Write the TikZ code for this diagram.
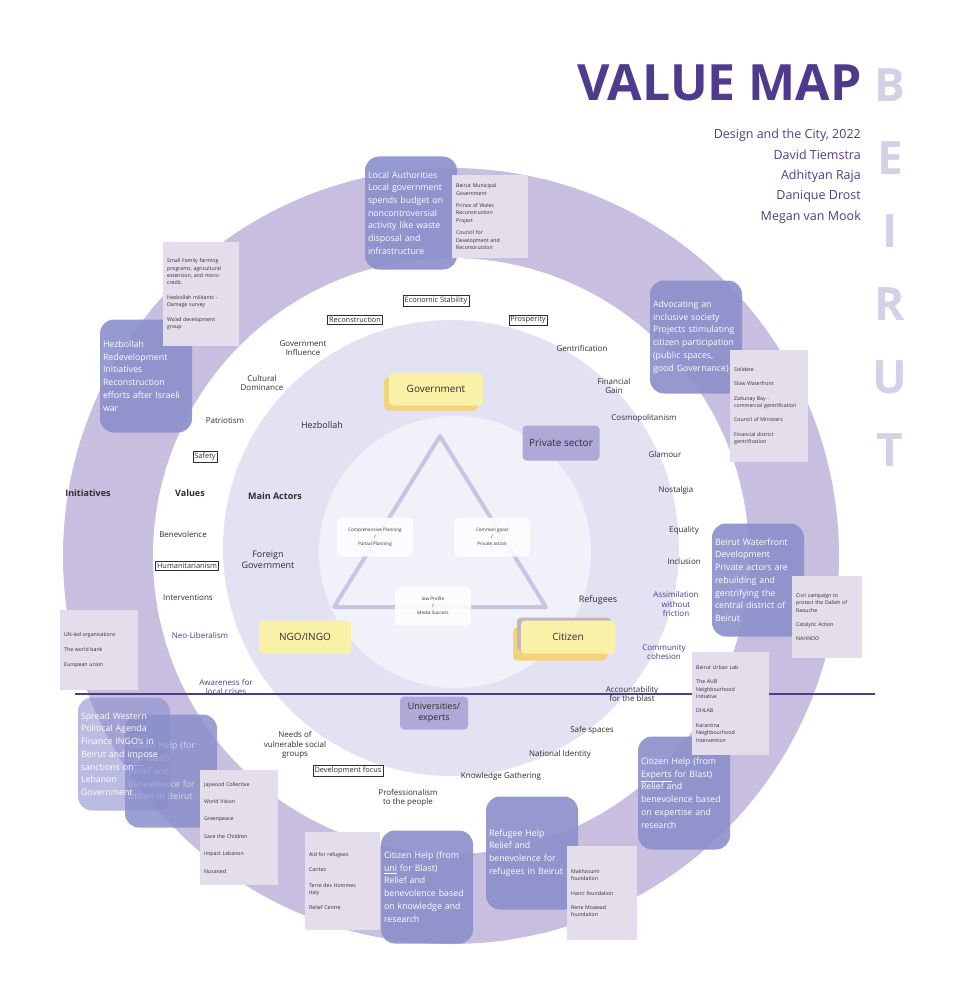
\documentclass[tikz,border=0pt]{standalone}
\usepackage{fontspec}
\setmainfont{Open Sans}
\usetikzlibrary{positioning}
\definecolor{ringlilac}{HTML}{C8BEDF}
\definecolor{midlilac}{HTML}{E3E2F3}
\definecolor{corelilac}{HTML}{F1F1F9}
\definecolor{triline}{HTML}{CBC3E3}
\definecolor{initblue}{HTML}{8A8FCB}
\definecolor{notegrey}{HTML}{E4DEEC}
\definecolor{actyellow}{HTML}{FAF1A9}
\definecolor{actorange}{HTML}{F2D27C}
\definecolor{actpurple}{HTML}{B0A8D6}
\definecolor{deeppurple}{HTML}{4E3B8E}
\definecolor{ghostpurple}{HTML}{D6D0E7}
\definecolor{ink}{HTML}{2E2E2E}
\begin{document}
\begin{tikzpicture}[x=1pt, y=-1pt, font=\fontsize{8}{9.6}\selectfont,
    lbl/.style={align=center, text=ink, inner sep=1pt},
    plbl/.style={lbl, text=deeppurple},
    head/.style={lbl, font=\fontsize{9}{11}\selectfont\bfseries},
    tag/.style={draw=ink, line width=0.5pt, fill=white, text=ink, inner sep=1.6pt, font=\fontsize{7.4}{9}\selectfont},
    initbox/.style={rounded corners=14pt, fill=initblue, fill opacity=0.9, text opacity=1, text=white,
      minimum width=92pt, minimum height=113pt, text width=86pt, inner sep=3pt, align=left,
      font=\fontsize{8.8}{12.7}\selectfont},
    notebox/.style={anchor=north west, fill=notegrey, text=ink, text width=68pt, inner sep=4pt,
      align=left, font=\fontsize{5.2}{7.4}\selectfont},
    actor/.style={rounded corners=4pt, minimum width=94pt, minimum height=33pt, text=ink,
      font=\fontsize{10}{12}\selectfont},
    dilemma/.style={rounded corners=6pt, fill=white, fill opacity=0.85, text opacity=1, text=ink,
      minimum width=76pt, minimum height=39pt, align=center, font=\fontsize{4.6}{7}\selectfont},
  ]
  \useasboundingbox (0,0) rectangle (965,992);

  % rings of the map
  \fill[ringlilac] (451,556) circle[radius=388pt];
  \fill[white] (451,556) circle[radius=298pt];
  \fill[midlilac] (451,548) circle[radius=228pt];
  \fill[corelilac] (455,552) circle[radius=136pt];

  % triangle of dilemmas
  \coordinate (t1) at (440,436); \coordinate (t2) at (546,607); \coordinate (t3) at (334,607);
  \draw[triline, line width=4pt, line join=round] (t1) -- (t2) -- (t3) -- cycle;
  \node[dilemma] (d-plan) at (375,537) {Comprehensive Planning\\/\\Partial Planning};
  \node[dilemma] (d-good) at (492,537) {Common good\\/\\Private action};
  \node[dilemma] (d-prof) at (433,606) {low Profile\\/\\Media Success};

  % title
  \node[anchor=east, inner sep=0pt, text=deeppurple, font=\fontsize{50}{50}\selectfont\bfseries] (title) at (862,83) {VALUE MAP};
  \foreach \ch [count=\i from 0] in {B,E,I,R,U,T}
    \node[text=ghostpurple, font=\fontsize{46}{46}\selectfont\bfseries] (city\i) at (890,85+73*\i) {\ch};
  \node[anchor=north east, align=right, inner sep=0pt, text=deeppurple, font=\fontsize{12.5}{20.4}\selectfont] (credits) at (861,129)
    {Design and the City, 2022\\David Tiemstra\\Adhityan Raja\\Danique Drost\\Megan van Mook};

  % headings
  \node[head] (h-init) at (88,493) {Initiatives};
  \node[head] (h-val) at (190,493) {Values};
  \node[head] (h-act) at (275,496) {Main Actors};

  % values, top and left
  \node[tag] (v-econ) at (436,301) {Economic Stability};
  \node[tag] (v-recon) at (355,320) {Reconstruction};
  \node[tag] (v-prosp) at (528,320) {Prosperity};
  \node[lbl] (v-govinf) at (303,348) {Government\\Influence};
  \node[lbl] (v-cult) at (262,383) {Cultural\\Dominance};
  \node[lbl] (v-patr) at (225,421) {Patriotism};
  \node[tag] (v-safe) at (205,457) {Safety};
  \node[lbl] (v-benev) at (183,534) {Benevolence};
  \node[tag] (v-human) at (187,566) {Humanitarianism};
  \node[lbl] (v-interv) at (188,598) {Interventions};
  \node[plbl] (v-neolib) at (200,635) {Neo-Liberalism};
  \node[plbl] (v-aware) at (226,687) {Awareness for\\local crises};
  % values, right
  \node[lbl] (v-gentr) at (582,348) {Gentrification};
  \node[lbl] (v-fin) at (614,386) {Financial\\Gain};
  \node[lbl] (v-cosmo) at (644,418) {Cosmopolitanism};
  \node[lbl] (v-glam) at (665,454) {Glamour};
  \node[lbl] (v-nost) at (676,490) {Nostalgia};
  \node[lbl] (v-equal) at (684,530) {Equality};
  \node[lbl] (v-incl) at (684,561) {Inclusion};
  \node[plbl] (v-assim) at (676,604) {Assimilation\\without\\friction};
  \node[plbl] (v-comm) at (664,652) {Community\\cohesion};
  \node[lbl] (v-acc) at (632,694) {Accountability\\for the blast};
  % values, bottom
  \node[lbl] (v-safesp) at (592,730) {Safe spaces};
  \node[lbl] (v-natid) at (560,754) {National Identity};
  \node[lbl] (v-know) at (501,776) {Knowledge Gathering};
  \node[lbl] (v-prof) at (408,798) {Professionalism\\to the people};
  \node[tag] (v-dev) at (348,771) {Development focus};
  \node[lbl] (v-needs) at (295,745) {Needs of\\vulnerable social\\groups};

  % main actors
  \node[actor, fill=actorange] (gov-back) at (431,394) {};
  \node[actor, fill=actyellow] (gov) at (436,389) {Government};
  \node[actor, fill=actpurple, minimum width=77pt, minimum height=35pt] (priv) at (561,443) {Private sector};
  \node[actor, fill=actyellow, minimum width=92pt] (ngo) at (305,637) {NGO/INGO};
  \node[actor, fill=actorange] (cit-back) at (560,644) {};
  \node[actor, fill=actpurple!70!actorange] (cit-mid) at (564,634) {};
  \node[actor, fill=actyellow] (cit) at (568,637) {Citizen};
  \node[actor, fill=actpurple, minimum width=68pt, align=center, font=\fontsize{9}{11}\selectfont] (uni) at (434,713) {Universities/\\experts};
  \node[lbl, font=\fontsize{9}{11}\selectfont] (a-hez) at (322,425) {Hezbollah};
  \node[lbl, font=\fontsize{9}{11}\selectfont] (a-foreign) at (268,560) {Foreign\\Government};
  \node[lbl, font=\fontsize{9}{11}\selectfont] (a-ref) at (598,600) {Refugees};

  % initiatives
  \node[initbox] (i-local) at (411,213) {Local Authorities\\Local government\\spends budget on\\noncontroversial\\activity like waste\\disposal and\\infrastructure};
  \node[initbox] (i-hez) at (146,376) {Hezbollah\\Redevelopment\\Initiatives\\Reconstruction\\efforts after Israeli\\war};
  \node[initbox] (i-incl) at (696,337) {Advocating an\\inclusive society\\Projects stimulating\\citizen participation\\(public spaces,\\good Governance)};
  \node[initbox] (i-water) at (758,580) {Beirut Waterfront\\Development\\Private actors are\\rebuilding and\\gentrifying the\\central district of\\Beirut};
  \node[initbox] (i-expert) at (684,793) {Citizen Help (from\\\underline{Experts} for Blast)\\Relief and\\benevolence based\\on expertise and\\research};
  \node[initbox] (i-refug) at (532,853) {Refugee Help\\Relief and\\benevolence for\\refugees in Beirut};
  \node[initbox] (i-uni) at (427,887) {Citizen Help (from\\\underline{uni} for Blast)\\Relief and\\benevolence based\\on knowledge and\\research};
  \node[initbox, fill opacity=0.85, text opacity=0.6] (i-ngo) at (171,771) {Citizen Help (for\\\underline{ngo} Blast)\\Relief and\\benevolence for\\citizen in Beirut};
  \node[initbox, fill opacity=0.6] (i-west) at (124,754) {Spread Western\\Political Agenda\\Finance INGO's in\\Beirut and impose\\sanctions on\\Lebanon\\Government};

  % divider
  \coordinate (div-l) at (75,694); \coordinate (div-r) at (875,694);
  \draw[deeppurple, line width=2.5pt] (div-l) -- (div-r);

  % stakeholders per initiative
  \node[notebox, minimum height=83pt] (n-local) at (452,175) {Beirut Municipal\\Government\\[5pt]Prince of Wales\\Reconstruction\\Project\\[5pt]Council for\\Development and\\Reconstruction};
  \node[notebox, minimum height=104pt] (n-hez) at (163,242) {Small Family farming\\programs, agricultural\\extension, and micro-\\credit.\\[7pt]Hezbollah militants -\\Damage survey\\[7pt]Wa'ad development\\group};
  \node[notebox, minimum height=112pt, text width=70pt] (n-incl) at (730,350) {Solidere\\[7pt]Slow Waterfront\\[7pt]Zaitunay Bay -\\commercial gentrification\\[7pt]Council of Ministers\\[7pt]Financial district\\gentrification};
  \node[notebox, minimum height=82pt, text width=62pt] (n-water) at (792,576) {Civil campaign to\\protect the Dalieh of\\Raouche\\[7pt]Catalytic Action\\[7pt]NAHNOO};
  \node[notebox, minimum height=103pt, text width=69pt] (n-expert) at (692,652) {Beirut Urban Lab\\[7pt]The AUB\\Neighbourhood\\Initiative\\[7pt]DHLAB\\[7pt]Karantina\\Neighbourhood\\Intervention};
  \node[notebox, minimum height=94pt, text width=62pt] (n-refug) at (567,846) {Makhzoumi\\foundation\\[7pt]Hariri foundation\\[7pt]Rene Moawad\\foundation};
  \node[notebox, minimum height=98pt, text width=67pt] (n-uni) at (305,832) {Aid for refugees\\[8pt]Caritas\\[8pt]Terre des Hommes\\Italy\\[8pt]Relief Centre};
  \node[notebox, minimum height=115pt, text width=70pt] (n-ngo) at (200,770) {Jaywood Collective\\[10pt]World Vision\\[10pt]Greenpeace\\[10pt]Save the Children\\[10pt]Impact Lebanon\\[10pt]Nusaned};
  \node[notebox, minimum height=80pt, text width=70pt] (n-west) at (60,610) {UN-led organisations\\[8pt]The world bank\\[8pt]European union};
\end{tikzpicture}
\end{document}
